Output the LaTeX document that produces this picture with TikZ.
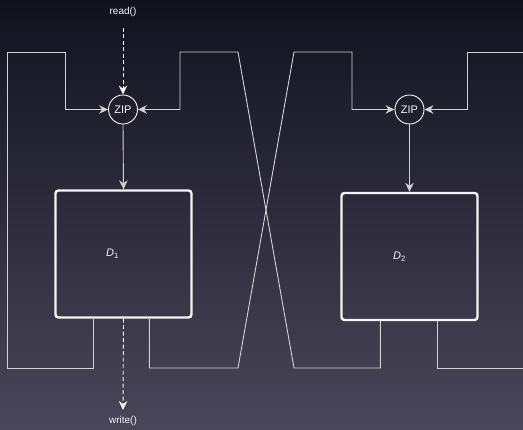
\documentclass[tikz,border=0pt]{standalone}
\usepackage{fontspec}
\setmainfont{Liberation Sans}
\usepackage{tikz}
\usetikzlibrary{arrows.meta,positioning,calc}
\definecolor{cBgTop}{HTML}{12121F}
\definecolor{cBgBot}{HTML}{4A4659}
\definecolor{cWire}{HTML}{D2D2D6}
\definecolor{cInk} {HTML}{F4F4F6}
\tikzset{
  zipnode/.style ={circle,draw=cInk,line width=0.9pt,minimum size=29pt,inner sep=0pt,
                   text=cInk,font=\fontsize{11}{13}\selectfont},
  dbox/.style    ={draw=cInk,line width=2.4pt,rounded corners=3pt,
                   minimum width=136pt,minimum height=127pt},
  lbl/.style     ={text=cInk,font=\fontsize{10}{12}\selectfont},
  dlbl/.style    ={text=cInk,font=\fontsize{11}{13}\selectfont\itshape},
  wire/.style    ={draw=cWire,line width=0.9pt},
  feed/.style    ={wire,-{Stealth[length=9pt,width=8.5pt,inset=3pt]}},
  call/.style    ={draw=cInk,line width=0.9pt,dash pattern=on 4pt off 2.5pt,
                   -{Stealth[length=9pt,width=8.5pt,inset=3pt]}},
}

\begin{document}
\begin{tikzpicture}[x=1pt, y=-1pt]

% ===== background ==========================================================
\shade[top color=cBgTop,bottom color=cBgBot] (0,0) rectangle (523,430);
\useasboundingbox (0,0) rectangle (523,430);

% ===== merge points and stores =============================================
\node[zipnode] (zip1) at (123,109.5) {ZIP};
\node[zipnode] (zip2) at (409.5,109.5) {ZIP};
\node[dbox] (d1) at (123.5,254) {};
\node[dbox] (d2) at (409.5,256.5) {};
\node[dlbl] at ($(d1.center)+(-11,0)$) {D\textsubscript{\upshape 1}};
\node[dlbl] at ($(d2.center)+(-10,0)$) {D\textsubscript{\upshape 2}};

% ===== calls ===============================================================
\node[lbl] (rd) at (123,12) {read()};
\node[lbl] (wr) at (123,421) {write()};
\coordinate (rdEnd) at (123,28);
\coordinate (wrEnd) at (123,410);
\draw[call] (rdEnd) -- (zip1.north);
\draw[call] (d1.south) -- (wrEnd);

% ===== zip into store ======================================================
\draw[feed] (zip1.south) -- (d1.north);
\draw[feed] (zip2.south) -- (d2.north);

% ===== loops back from the stores ==========================================
\coordinate (edgeTop) at (523,52);
\coordinate (edgeBot) at (523,368);
\draw[feed] ($(d1.south west)+(39,0)$) |- (7.5,368) |- (65,52) |- (zip1.west);
\draw[feed] ($(d2.south west)+(40,0)$) |- (294,368) -- (238,52) -- (180,52) |- (zip1.east);
\draw[feed] ($(d1.south west)+(95,0)$) |- (238,368) -- (294,52) -- (352,52) |- (zip2.west);
\draw[feed] (edgeTop) -- (467,52) |- (zip2.east);
\draw[wire] ($(d2.south west)+(97,0)$) |- (edgeBot);
\end{tikzpicture}
\end{document}
